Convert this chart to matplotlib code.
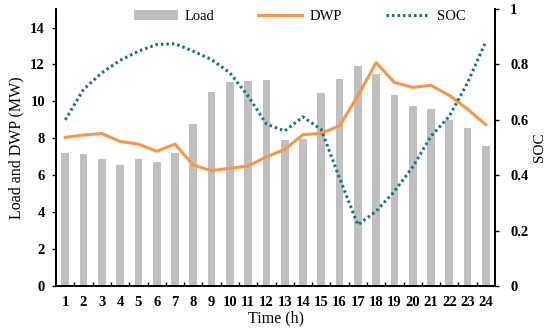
import matplotlib
matplotlib.use("Agg")
import matplotlib.pyplot as plt
import numpy as np

plt.rcParams['font.family'] = ['Liberation Serif', 'DejaVu Serif']

hours = list(range(1, 25))
load = [7.2, 7.15, 6.9, 6.55, 6.9, 6.7, 7.2, 8.75, 10.5, 11.05, 11.1, 11.15,
        7.9, 7.95, 10.45, 11.2, 11.9, 11.5, 10.35, 9.75, 9.6, 9.0, 8.55, 7.6]
dwp = [8.05, 8.18, 8.26, 7.83, 7.69, 7.3, 7.69, 6.55, 6.25, 6.38, 6.5, 7.0,
       7.4, 8.2, 8.27, 8.68, 10.3, 12.1, 11.03, 10.76, 10.87, 10.33, 9.58, 8.74]
soc = [0.60, 0.71, 0.77, 0.815, 0.848, 0.872, 0.875, 0.848, 0.818, 0.77, 0.686, 0.585,
       0.56, 0.611, 0.565, 0.39, 0.221, 0.27, 0.342, 0.43, 0.541, 0.613, 0.734, 0.883]

fig = plt.figure(figsize=(5.5, 3.34), dpi=100)
ax = fig.add_axes([0.102, 0.1437, 0.798, 0.829])
ax2 = ax.twinx()

b = ax.bar(hours, load, width=0.42, color='#bfbfbf', label='Load', zorder=1)
l1, = ax.plot(hours, dwp, color='#f79646', lw=2.2, label='DWP', zorder=3)
l2, = ax2.plot(hours, soc, color='#17707f', lw=2.2, ls=(0, (0.8, 1.0)), label='SOC')

ax.set_xlim(0.5, 24.5)
ax.set_ylim(0, 15)
ax2.set_ylim(0, 1)
ax.set_yticks(range(0, 15, 2))
ax2.set_yticks([0, 0.2, 0.4, 0.6, 0.8, 1])
ax2.set_yticklabels(['0', '0.2', '0.4', '0.6', '0.8', '1'])

ax.set_xticks(hours)
ax.set_xticks(np.arange(1.5, 24.5, 1), minor=True)
ax.tick_params(axis='x', which='major', length=0, pad=7)
ax.tick_params(axis='x', which='minor', direction='in', length=3, width=1)
ax.tick_params(axis='y', direction='out', length=3, width=1, pad=5)
ax2.tick_params(axis='y', direction='out', length=3, width=1, pad=8)

for a in (ax, ax2):
    a.spines['top'].set_visible(False)
    for s in ('left', 'right', 'bottom'):
        a.spines[s].set_linewidth(1.3)
for lab in ax.get_xticklabels() + ax.get_yticklabels() + ax2.get_yticklabels():
    lab.set_fontweight('bold')
    lab.set_fontsize(10.5)

ax.set_xlabel('Time (h)', fontsize=11.5, labelpad=1)
ax.set_ylabel('Load and DWP (MW)', fontsize=11.5, labelpad=4)
ax2.set_ylabel('SOC', fontsize=11, rotation=90)
ax2.yaxis.set_label_coords(1.086, 0.5)

ax.legend([b, l1, l2], ['Load', 'DWP', 'SOC'], loc='upper center', ncol=3,
          frameon=False, fontsize=10.5, bbox_to_anchor=(0.555, 1.045),
          columnspacing=3.0, handlelength=3.0, handletextpad=0.5)

fig.savefig('out.png', dpi=100)
